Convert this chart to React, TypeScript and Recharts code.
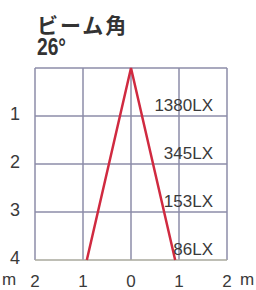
import { LineChart, Line, XAxis, YAxis, CartesianGrid, ReferenceLine } from "recharts";

const TITLE = "ビーム角";
const ANGLE = "26°";

// beam edge: spread in metres at each distance
const beam = [
  { x: -0.92, d: 4 },
  { x: 0, d: 0 },
  { x: 0.92, d: 4 },
];

const distances = [1, 2, 3, 4];
const luxLabels = ["1380LX", "345LX", "153LX", "86LX"];
const xTicks = [-2, -1, 0, 1, 2];
const yTicks = [0, 1, 2, 3, 4];

const FONT = "'Liberation Sans', Arial, sans-serif";
const GRID = "#8c8ca8";
const HGRID = "#a9a99c";
const INK = "#3a3a3a";

function XTick(props: any) {
  const { x, y, payload } = props;
  return (
    <text x={x} y={y + 19} textAnchor="middle" fontSize={17} fontFamily={FONT} fill={INK}>
      {Math.abs(payload.value)}
    </text>
  );
}

function YTick(props: any) {
  const { y, payload } = props;
  if (payload.value === 0) return null;
  return (
    <text x={15} y={y + 4} textAnchor="middle" fontSize={18} fontFamily={FONT} fill={INK}>
      {payload.value}
    </text>
  );
}

export default function App() {
  return (
    <div style={{ position: "absolute", left: 0, top: 0, width: 256, height: 290, background: "#fff" }}>
      <div
        style={{
          position: "absolute",
          left: 37,
          top: 12,
          fontFamily: "'Noto Sans CJK JP', sans-serif",
          fontSize: 21,
          fontWeight: 700,
          color: "#333",
          lineHeight: "24px",
          letterSpacing: 2,
        }}
      >
        {TITLE}
      </div>
      <div
        style={{
          position: "absolute",
          left: 37,
          top: 36,
          fontFamily: FONT,
          fontSize: 24,
          fontWeight: 700,
          color: "#333",
          lineHeight: "22px",
          transform: "scaleX(0.8)",
          transformOrigin: "left",
        }}
      >
        {ANGLE}
      </div>
      <LineChart width={256} height={290} data={beam} margin={{ top: 68, right: 29, bottom: 0, left: 0 }}>
        <CartesianGrid stroke={GRID} strokeWidth={1.5} horizontal={false} />
        <XAxis
          type="number"
          dataKey="x"
          domain={[-2, 2]}
          ticks={xTicks}
          height={30}
          axisLine={false}
          tickLine={false}
          tick={<XTick />}
          interval={0}
        />
        <YAxis
          type="number"
          dataKey="d"
          domain={[0, 4]}
          ticks={yTicks}
          reversed
          width={35}
          axisLine={false}
          tickLine={false}
          tick={<YTick />}
          interval={0}
        />
        <ReferenceLine y={0} stroke={GRID} strokeWidth={1.5} />
        {distances.map((d, i) => (
          <ReferenceLine
            key={d}
            y={d}
            stroke={i === distances.length - 1 ? HGRID : GRID}
            strokeWidth={1.5}
            label={{
              value: luxLabels[i],
              position: "insideBottomRight",
              offset: 5,
              dx: -9,
              fontSize: 17,
              fontFamily: FONT,
              fill: INK,
            }}
          />
        ))}
        <Line
          type="linear"
          dataKey="d"
          stroke="#d02a40"
          strokeWidth={2.5}
          dot={false}
          isAnimationActive={false}
        />
      </LineChart>
      <div style={{ position: "absolute", left: 2, top: 270, fontFamily: FONT, fontSize: 17, color: INK }}>m</div>
      <div style={{ position: "absolute", left: 240, top: 270, fontFamily: FONT, fontSize: 17, color: INK }}>m</div>
    </div>
  );
}
